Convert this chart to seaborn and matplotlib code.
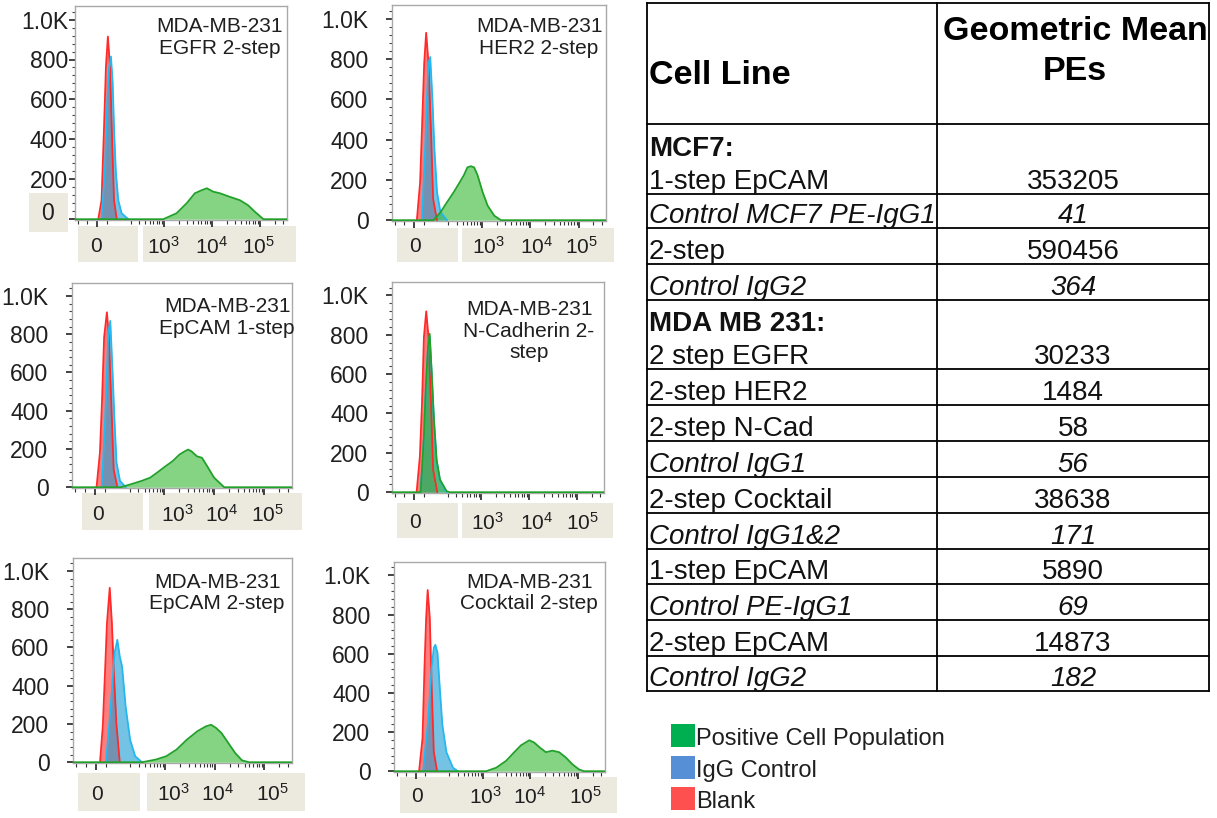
import numpy as np
import matplotlib
matplotlib.use("Agg")
import matplotlib.pyplot as plt
import seaborn as sns
from matplotlib.patches import Rectangle
from matplotlib.ticker import FixedLocator, FixedFormatter

# ------------------------------------------------------------------ data
panel_titles = [
    "MDA-MB-231\nEGFR 2-step",
    "MDA-MB-231\nHER2 2-step",
    "MDA-MB-231\nEpCAM 1-step",
    "MDA-MB-231\nN-Cadherin 2-\nstep",
    "MDA-MB-231\nEpCAM 2-step",
    "MDA-MB-231\nCocktail 2-step",
]

# Panel 1: EGFR 2-step
p1_blank_x = [7, 24, 36, 47, 57, 68, 78, 89, 103]
p1_blank_y = [0, 95, 430, 765, 915, 765, 430, 95, 0]
p1_igg_x = [24, 42, 54, 64, 73, 82, 90, 99, 111, 130, 179]
p1_igg_y = [0, 260, 600, 765, 815, 685, 430, 230, 95, 30, 0]
p1_pos_x = [960, 1820, 2950, 4370, 6030, 7760, 10500, 14500, 23400, 38000, 56000, 78000, 117000]
p1_pos_y = [0, 30, 80, 130, 145, 155, 138, 130, 112, 95, 70, 37, 0]

# Panel 2: HER2 2-step
p2_blank_x = [14, 31, 40, 52, 62, 74, 87, 98, 118]
p2_blank_y = [0, 190, 443, 780, 930, 780, 443, 106, 0]
p2_igg_x = [40, 57, 66, 74, 83, 94, 104, 118, 139, 191]
p2_igg_y = [0, 360, 610, 780, 810, 610, 360, 140, 40, 0]
p2_pos_x = [100, 139, 191, 263, 335, 425, 500, 590, 690, 810, 1030, 1310, 1800, 2470]
p2_pos_y = [0, 39, 90, 140, 182, 224, 262, 268, 262, 224, 140, 72, 22, 0]

# Panel 3: EpCAM 1-step
p3_blank_x = [9, 26, 36, 47, 61, 71, 83, 95, 113]
p3_blank_y = [0, 181, 440, 785, 915, 785, 440, 93, 0]
p3_igg_x = [35, 52, 61, 69, 78, 89, 99, 109, 128, 168]
p3_igg_y = [0, 352, 611, 818, 870, 611, 352, 128, 33, 0]
p3_pos_x = [132, 214, 346, 515, 708, 1050, 1450, 2000, 2560, 2990, 3480, 4460, 5650, 7200, 9900, 15800]
p3_pos_y = [0, 16, 33, 50, 76, 110, 136, 171, 188, 197, 188, 162, 154, 110, 50, 0]

# Panel 4: N-Cadherin 2-step
p4_blank_x = [14, 31, 42, 52, 64, 76, 89, 100, 122]
p4_blank_y = [0, 182, 451, 788, 919, 788, 451, 115, 0]
p4_igg_x = [35, 52, 62, 73, 82, 92, 104, 118, 139, 191]
p4_igg_y = [0, 270, 520, 720, 790, 610, 360, 160, 60, 0]
p4_pos_x = [35, 52, 62, 73, 82, 92, 104, 118, 139, 191, 224]
p4_pos_y = [0, 283, 535, 737, 805, 620, 369, 166, 64, 5, 0]

# Panel 5: EpCAM 2-step
p5_blank_x = [22, 36, 47, 57, 71, 82, 92, 104, 122]
p5_blank_y = [0, 188, 466, 726, 912, 726, 466, 205, 0]
p5_igg_x = [52, 69, 82, 95, 109, 122, 136, 160, 197, 250, 344]
p5_igg_y = [0, 205, 379, 570, 640, 553, 500, 292, 118, 31, 0]
p5_pos_x = [344, 650, 1050, 1700, 2750, 4470, 6700, 8500, 10700, 13700, 18800, 25800, 35500, 49000]
p5_pos_y = [0, 14, 31, 66, 118, 162, 188, 196, 179, 153, 101, 49, 10, 0]

# Panel 6: Cocktail 2-step
p6_blank_x = [17, 35, 45, 54, 62, 73, 83, 94, 111]
p6_blank_y = [0, 167, 518, 781, 925, 781, 430, 100, 0]
p6_igg_x = [38, 64, 82, 94, 102, 113, 126, 143, 174, 238, 302]
p6_igg_y = [0, 255, 518, 630, 645, 605, 430, 237, 97, 18, 0]
p6_pos_x = [1180, 1920, 3090, 4570, 6310, 9440, 12000, 15300, 21000, 28800, 39800, 55000, 75700, 104000, 132000]
p6_pos_y = [0, 18, 53, 97, 132, 158, 146, 123, 97, 105, 97, 70, 35, 9, 0]

ytick_values = [0, 200, 400, 600, 800, 1000]
ytick_labels = ["0", "200", "400", "600", "800", "1.0K"]
xtick_labels = ["0", r"$\mathregular{10^{3}}$", r"$\mathregular{10^{4}}$", r"$\mathregular{10^{5}}$"]

legend_labels = ["Positive Cell Population", "IgG Control", "Blank"]

table_header = ["Cell Line", "Geometric Mean\nPEs"]
cell_lines = ["MCF7:", "1-step EpCAM", "Control MCF7 PE-IgG1", "2-step", "Control IgG2",
              "MDA MB 231:", "2 step EGFR", "2-step HER2", "2-step N-Cad", "Control IgG1",
              "2-step Cocktail", "Control IgG1&2", "1-step EpCAM", "Control PE-IgG1",
              "2-step EpCAM", "Control IgG2"]
geo_mean_pe = ["", "353205", "41", "590456", "364",
               "", "30233", "1484", "58", "56",
               "38638", "171", "5890", "69", "14873", "182"]

# ------------------------------------------------------------------ style
sns.set_theme(style="white")
plt.rcParams["font.family"] = ["Liberation Sans", "DejaVu Sans"]
plt.rcParams["mathtext.fontset"] = "custom"
plt.rcParams["mathtext.rm"] = "Liberation Sans"
plt.rcParams["mathtext.it"] = "Liberation Sans:italic"
plt.rcParams["mathtext.bf"] = "Liberation Sans:bold"

W, H = 1217, 818
fig = plt.figure(figsize=(W / 100, H / 100), dpi=100, facecolor="white")

def fx(px):
    return px / W

def fy(py):
    return 1 - py / H

TXT = "#1f1f1f"
BEIGE = "#ECE9DF"
XMIN, XMAX = -114, 363000

series_style = {
    "blank": dict(fill=(1.0, 0.25, 0.25), alpha=0.68, line="#FF2B2B"),
    "igg": dict(fill=(0.12, 0.62, 0.83), alpha=0.62, line="#25B8F0"),
    "pos": dict(fill=(0.2, 0.72, 0.2), alpha=0.6, line="#22A12A"),
}

panel_data = [
    dict(blank=(p1_blank_x, p1_blank_y), igg=(p1_igg_x, p1_igg_y), pos=(p1_pos_x, p1_pos_y)),
    dict(blank=(p2_blank_x, p2_blank_y), igg=(p2_igg_x, p2_igg_y), pos=(p2_pos_x, p2_pos_y)),
    dict(blank=(p3_blank_x, p3_blank_y), igg=(p3_igg_x, p3_igg_y), pos=(p3_pos_x, p3_pos_y)),
    dict(blank=(p4_blank_x, p4_blank_y), igg=(p4_igg_x, p4_igg_y), pos=(p4_pos_x, p4_pos_y)),
    dict(blank=(p5_blank_x, p5_blank_y), igg=(p5_igg_x, p5_igg_y), pos=(p5_pos_x, p5_pos_y)),
    dict(blank=(p6_blank_x, p6_blank_y), igg=(p6_igg_x, p6_igg_y), pos=(p6_pos_x, p6_pos_y)),
]

layout = [
    dict(box=(75, 6, 287, 220), ypad=1, xl_y=247, xl_x=[96, 163, 212, 258],
         beige=[(78, 226, 138, 262), (143, 226, 296, 262), (29, 193, 68, 232)], title=(220, 37.5)),
    dict(box=(392, 5, 606, 221), ypad=13, xl_y=247, xl_x=[415, 488, 537, 581],
         beige=[(397, 228, 458, 262), (462, 228, 614, 262)], title=(539, 37.5)),
    dict(box=(72, 283, 292, 488), ypad=13, xl_y=515, xl_x=[98, 177, 222, 267],
         beige=[(82, 493, 143, 530), (149, 493, 302, 530)], title=(227, 317.5)),
    dict(box=(392, 282, 604, 493), ypad=13, xl_y=523, xl_x=[415, 487, 537, 582],
         beige=[(397, 503, 458, 538), (462, 503, 613, 538)], title=(529, 331)),
    dict(box=(73, 558, 292, 763), ypad=13, xl_y=794, xl_x=[97, 173, 218, 272],
         beige=[(78, 773, 140, 811), (147, 773, 305, 811)], title=(217, 593)),
    dict(box=(394, 562, 605, 772), ypad=13, xl_y=797, xl_x=[417, 485, 530, 585],
         beige=[(400, 777, 617, 813)], title=(529, 593)),
]

minor_x = ([-100, -50, 50]
           + [m * 100 for m in range(2, 10)]
           + [m * 1000 for m in range(2, 10)]
           + [m * 10000 for m in range(2, 10)]
           + [2e5, 3e5])
minor_y = [v for v in range(40, 1061, 40) if v % 200 != 0]

for i, (pdata, lay) in enumerate(zip(panel_data, layout)):
    l, t, r, b = lay["box"]
    ax = fig.add_axes([fx(l), fy(b), fx(r - l), (b - t) / H])
    ax.set_xscale("symlog", linthresh=100, linscale=0.36)
    for key in ["blank", "igg", "pos"]:
        xs, ys = pdata[key]
        x = np.asarray(xs, dtype=float)
        y = np.asarray(ys, dtype=float)
        if key == "pos":
            x = np.r_[XMIN, x, XMAX]
            y = np.r_[0, y, 0]
        st = series_style[key]
        ax.fill_between(x, y, 0, color=st["fill"], alpha=st["alpha"], lw=0, zorder=2)
        sns.lineplot(x=x, y=y, ax=ax, color=st["line"], lw=1.3, estimator=None,
                     sort=False, zorder=3)
    ax.set_xlim(XMIN, XMAX)
    ax.set_ylim(-4, 1068)
    ax.set_xlabel("")
    ax.set_ylabel("")
    for sp in ax.spines.values():
        sp.set_visible(True)
        sp.set_color("#A9A9A9")
        sp.set_linewidth(1.0)
    ax.xaxis.set_major_locator(FixedLocator([0, 1e3, 1e4, 1e5]))
    ax.xaxis.set_minor_locator(FixedLocator(minor_x))
    ax.yaxis.set_major_locator(FixedLocator(ytick_values))
    labels = list(ytick_labels)
    if i == 0:
        labels[0] = ""
    ax.yaxis.set_major_formatter(FixedFormatter(labels))
    ax.yaxis.set_minor_locator(FixedLocator(minor_y))
    ax.tick_params(axis="x", which="major", direction="out", length=5, width=1.2,
                   color="#222222", labelbottom=False, bottom=True)
    ax.tick_params(axis="x", which="minor", direction="out", length=3, width=0.8,
                   color="#333333", bottom=True)
    ax.tick_params(axis="y", which="major", direction="out", length=4, width=1.2,
                   color="#222222", labelsize=16.5, labelcolor=TXT, pad=lay["ypad"], left=True)
    ax.tick_params(axis="y", which="minor", direction="out", length=2, width=0.8,
                   color="#444444", left=True)

    # pasted label boxes
    for (bx0, by0, bx1, by1) in lay["beige"]:
        fig.patches.append(Rectangle((fx(bx0), fy(by1)), fx(bx1 - bx0), (by1 - by0) / H,
                                     transform=fig.transFigure, facecolor=BEIGE,
                                     edgecolor="none", zorder=-1))
    for lab, px in zip(xtick_labels, lay["xl_x"]):
        fig.text(fx(px), fy(lay["xl_y"]), lab, ha="center", va="center",
                 fontsize=15, color=TXT)
    tx, ty = lay["title"]
    fig.text(fx(tx), fy(ty), panel_titles[i], ha="center", va="center",
             multialignment="center", fontsize=15, color=TXT, linespacing=1.18)

# "0" y label of first panel sits in its own pasted box
fig.text(fx(47), fy(214), ytick_labels[0], ha="center", va="center", fontsize=16.5, color=TXT)

# ------------------------------------------------------------------ table
tab = fig.add_axes([0, 0, 1, 1], zorder=5)
tab.set_xlim(0, W)
tab.set_ylim(H, 0)
tab.axis("off")

TL, TM, TR = 647, 937, 1209
TTOP = 3
row_bounds = [124, 161, 194, 228, 264, 300, 336, 369, 405, 441, 477, 513, 549, 584, 620, 656, 691]
group_rows = {0, 5}
LW = 1.3
for xv in (TL, TM, TR):
    tab.plot([xv, xv], [TTOP, row_bounds[-1]], color="black", lw=LW, solid_capstyle="projecting")
tab.plot([TL, TR], [TTOP, TTOP], color="black", lw=LW)
for k, yb in enumerate(row_bounds):
    if k in (1, 6):
        continue
    tab.plot([TL, TR], [yb, yb], color="black", lw=LW)

tab.text(TL + 2, 84, table_header[0], ha="left", va="baseline", fontsize=24.5,
         fontweight="bold", color="black")
h1, h2 = table_header[1].split("\n")
tab.text((TM + TR) / 2 + 2, 40, h1, ha="center", va="baseline", fontsize=24.5,
         fontweight="bold", color="black")
tab.text((TM + TR) / 2 + 2, 80, h2, ha="center", va="baseline", fontsize=24.5,
         fontweight="bold", color="black")

for k, (name, val) in enumerate(zip(cell_lines, geo_mean_pe)):
    bottom = row_bounds[k + 1]
    base = bottom - 5
    if k in group_rows:
        style, weight = "normal", "bold"
    elif name.startswith("Control"):
        style, weight = "italic", "normal"
    else:
        style, weight = "normal", "normal"
    tab.text(TL + 2, base, name, ha="left", va="baseline", fontsize=20,
             fontstyle=style, fontweight=weight, color="#111111")
    if val:
        tab.text((TM + TR) / 2, base, val, ha="center", va="baseline", fontsize=20,
                 fontstyle=style, fontweight=weight, color="#111111")

# ------------------------------------------------------------------ legend
legend_colors = ["#00B050", "#568FD6", "#FF5050"]
legend_y = [724, 756, 787]
for lab, col, y0 in zip(legend_labels, legend_colors, legend_y):
    tab.add_patch(Rectangle((671, y0), 24, 23, facecolor=col, edgecolor="none"))
    tab.text(696, y0 + 21, lab, ha="left", va="baseline", fontsize=17, color=TXT)

fig.savefig("out.png", dpi=100, facecolor="white")
